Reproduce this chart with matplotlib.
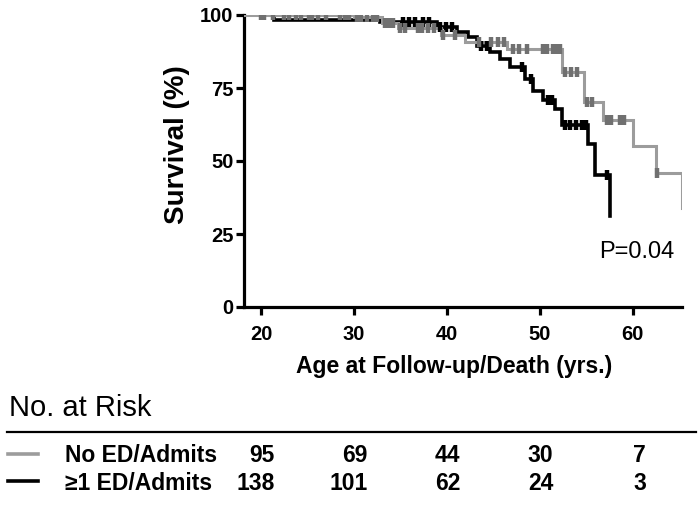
import numpy as np
import matplotlib
matplotlib.use("Agg")
import matplotlib.pyplot as plt
import matplotlib.transforms as mtransforms
from matplotlib.lines import Line2D

plt.rcParams["font.family"] = ["Liberation Sans", "DejaVu Sans"]

# ---------------------------------------------------------------------------
# Kaplan-Meier steps (age in years, survival in %)
# ---------------------------------------------------------------------------
gray_t = [18.17, 30.0, 33.0, 34.7, 39.4, 41.9, 46.5, 52.4, 54.8, 56.8, 60.0, 62.5, 65.25]
gray_s = [100.0, 99.2, 97.4, 95.4, 93.0, 90.6, 88.3, 80.4, 70.3, 64.0, 55.0, 45.8, 33.8]
gray_cens = [20.0, 20.3, 21.3, 22.5, 23.0, 23.8, 24.3, 25.2, 25.5, 26.1, 27.0, 28.5,
             29.0, 29.5, 30.3, 30.8, 31.4, 32.0, 32.5, 33.3, 33.8, 34.2, 35.0, 35.5,
             36.9, 37.3, 38.0, 38.6, 39.6, 40.9, 43.5, 44.8, 45.5, 46.2, 47.1, 47.8,
             48.6, 50.3, 50.8, 51.4, 51.8, 52.2, 52.7, 53.4, 54.0, 55.1, 55.6, 57.2,
             57.7, 58.6, 59.1, 62.6]

black_t = [18.17, 21.4, 32.8, 38.9, 41.1, 42.3, 43.2, 44.6, 45.7, 46.8, 48.4, 49.3,
           50.3, 51.6, 52.4, 55.2, 55.9, 57.5]
black_s = [100.0, 98.4, 97.6, 96.0, 94.2, 92.4, 89.4, 87.2, 84.8, 82.2, 78.0, 74.0,
           70.8, 67.8, 62.4, 55.8, 45.3, 31.0]
black_cens = [35.3, 35.9, 36.6, 37.4, 38.1, 39.3, 39.9, 40.5, 43.7, 44.3, 48.1,
              49.0, 50.9, 51.3, 52.7, 53.3, 53.9, 54.5, 55.0, 57.2]

p_text = "P=0.04"

# number at risk table
risk_ages = [20, 30, 40, 50, 60]
risk_labels = ["No ED/Admits", "\u22651 ED/Admits"]
risk_gray = [95, 69, 44, 30, 7]
risk_black = [138, 101, 62, 24, 3]

GRAY = "#9c9c9c"
GRAY_MARK = "#707070"


def surv_at(times, surv, t):
    idx = np.searchsorted(np.asarray(times), np.asarray(t), side="right") - 1
    return np.asarray(surv)[idx]


W, H = 700, 513
fig = plt.figure(figsize=(W / 100, H / 100), dpi=100)
ax = fig.add_axes([244 / W, 1 - 307 / H, (682 - 244) / W, (307 - 15) / H])

ax.step(black_t, black_s, where="post", color="black", lw=2.6, zorder=3,
        solid_joinstyle="miter")
ax.step(gray_t, gray_s, where="post", color=GRAY, lw=2.2, zorder=4,
        solid_joinstyle="miter")
ax.plot(black_cens, surv_at(black_t, black_s, black_cens), ls="none",
        marker="|", ms=7, mew=3.2, color="black", zorder=5)
ax.plot(gray_cens, surv_at(gray_t, gray_s, gray_cens), ls="none",
        marker="|", ms=7, mew=3.2, color=GRAY_MARK, zorder=6)

ax.set_xlim(18.17, 65.3)
ax.set_ylim(0, 100)
ax.set_xticks(risk_ages)
ax.set_yticks([0, 25, 50, 75, 100])
for side in ["top", "right"]:
    ax.spines[side].set_visible(False)
for side in ["left", "bottom"]:
    ax.spines[side].set_linewidth(2.3)
ax.tick_params(axis="both", width=2.3, length=6, labelsize=14.5)
ax.tick_params(axis="x", pad=7)
ax.tick_params(axis="y", pad=1.5)
for lab in ax.get_xticklabels() + ax.get_yticklabels():
    lab.set_fontweight("bold")

ax.text((599 - 244) / 438, (307 - 252) / 292, p_text, transform=ax.transAxes,
        fontsize=17, ha="left", va="center")

fig.text(177 / W, 1 - 145 / H, "Survival (%)", rotation=90, fontsize=20,
         fontweight="bold", ha="center", va="center")
fig.text(454 / W, 1 - 366 / H, "Age at Follow-up/Death (yrs.)", fontsize=16.5,
         fontweight="bold", ha="center", va="center")

# ---------------------------------------------------------------------------
# number-at-risk table under the plot
# ---------------------------------------------------------------------------
fig.text(9 / W, 1 - 408 / H, "No. at Risk", fontsize=21, ha="left", va="center")
fig.add_artist(Line2D([7 / W, 696 / W], [1 - 432 / H, 1 - 432 / H],
                      color="black", lw=1.6, transform=fig.transFigure))

blend = mtransforms.blended_transform_factory(ax.transData, fig.transFigure)
rows = [(risk_labels[0], risk_gray, GRAY, 456), (risk_labels[1], risk_black, "black", 483)]
for label, counts, col, ypx in rows:
    yf = 1 - ypx / H
    fig.add_artist(Line2D([8 / W, 38 / W], [yf + 2 / H, yf + 2 / H], color=col,
                          lw=2.6, transform=fig.transFigure))
    fig.text(65 / W, yf, label, fontsize=16.5, fontweight="bold", ha="left", va="center")
    for age, n in zip(risk_ages, counts):
        fig.text(age + 1.45, yf, str(n), transform=blend, fontsize=16.5,
                 fontweight="bold", ha="right", va="center")

fig.savefig("out.png", dpi=100)
